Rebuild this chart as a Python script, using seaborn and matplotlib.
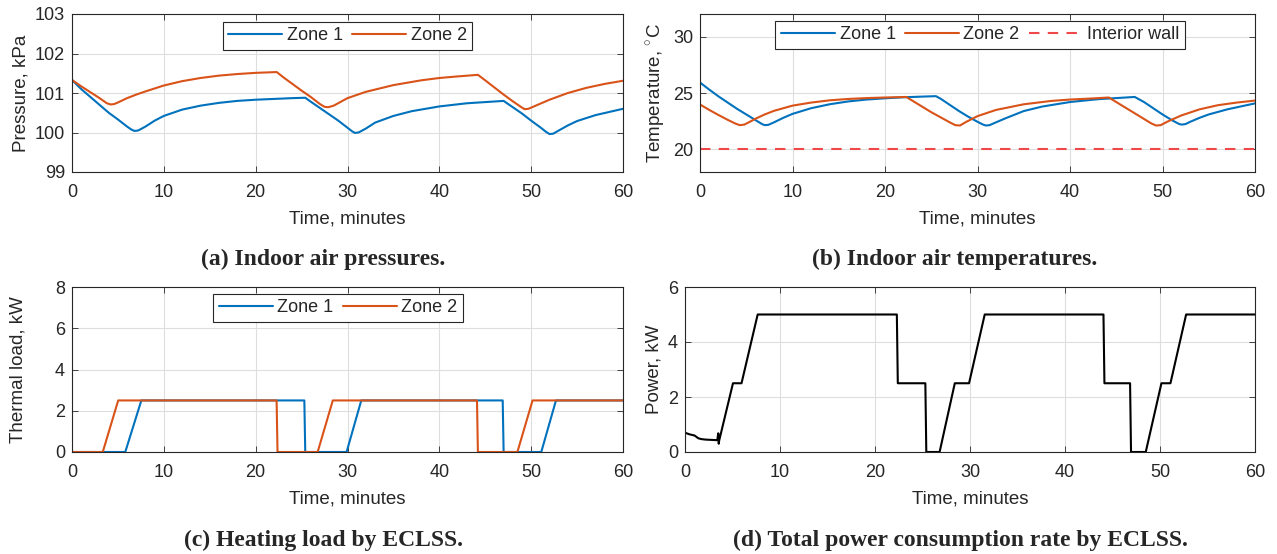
import numpy as np
import pandas as pd
import seaborn as sns
import matplotlib.pyplot as plt

# colours used by the original (matlab defaults)
blue = '#0072BD'
orange = '#D95319'

# (a) indoor air pressure, kPa
p1_t = [0, 1, 2, 3, 4, 5, 6, 6.5, 6.8, 7.2, 8, 9, 10, 12, 14, 16, 18, 20, 22, 24, 25.4,
        26, 27, 28, 29, 30, 30.5, 30.8, 31.2, 32, 33, 35, 37, 40, 43, 45, 47,
        48, 49, 50, 51, 51.6, 52, 52.4, 53, 54, 55, 57, 60]
p1_v = [101.33, 101.1, 100.9, 100.7, 100.5, 100.33, 100.15, 100.07, 100.04, 100.05, 100.15, 100.3,
        100.42, 100.58, 100.68, 100.75, 100.8, 100.83, 100.85, 100.87, 100.88,
        100.78, 100.62, 100.46, 100.3, 100.12, 100.03, 99.99, 100.0, 100.1, 100.25, 100.42, 100.54,
        100.66, 100.74, 100.77, 100.8,
        100.64, 100.48, 100.3, 100.13, 100.02, 99.96, 99.97, 100.05, 100.18, 100.29, 100.44, 100.6]
p2_t = [0, 1, 2, 3, 3.8, 4.2, 4.6, 5, 6, 7, 8, 10, 12, 14, 16, 18, 20, 22.3,
        23, 24, 25, 26, 27, 27.5, 27.9, 28.5, 30, 32, 35, 38, 40, 42, 44.2,
        45, 46, 47, 48, 49, 49.3, 49.7, 50.3, 52, 54, 56, 58, 60]
p2_v = [101.33, 101.17, 101.02, 100.87, 100.74, 100.71, 100.72, 100.76, 100.87, 100.96, 101.04,
        101.19, 101.3, 101.38, 101.44, 101.48, 101.51, 101.53,
        101.4, 101.23, 101.06, 100.9, 100.72, 100.65, 100.64, 100.68, 100.87, 101.03, 101.2,
        101.32, 101.38, 101.42, 101.46,
        101.32, 101.14, 100.96, 100.79, 100.63, 100.59, 100.6, 100.66, 100.83, 101.0, 101.13,
        101.23, 101.31]

# (b) indoor air temperature, C
t1_t = [0, 1, 2, 3, 4, 5, 6, 6.7, 7.0, 7.4, 8, 9, 10, 12, 14, 16, 18, 20, 22, 24, 25.5,
        26, 27, 28, 29, 30, 30.6, 30.9, 31.3, 32, 33, 35, 37, 40, 43, 45, 47,
        48, 49, 50, 51, 51.8, 52.1, 52.5, 53, 54, 55, 57, 60]
t1_v = [25.93, 25.3, 24.7, 24.15, 23.6, 23.1, 22.6, 22.25, 22.15, 22.18, 22.4, 22.8, 23.15,
        23.65, 24.0, 24.25, 24.42, 24.53, 24.62, 24.68, 24.72,
        24.5, 23.95, 23.4, 22.9, 22.45, 22.2, 22.12, 22.15, 22.4, 22.75, 23.4, 23.8, 24.2,
        24.45, 24.55, 24.65,
        24.2, 23.65, 23.1, 22.6, 22.25, 22.2, 22.25, 22.45, 22.8, 23.1, 23.55, 24.08]
t2_t = [0, 1, 2, 3, 3.8, 4.3, 4.8, 5.5, 6, 7, 8, 10, 12, 14, 16, 18, 20, 22.3,
        23, 24, 25, 26, 27, 27.6, 28.1, 28.8, 30, 32, 35, 38, 40, 42, 44.2,
        45, 46, 47, 48, 48.8, 49.3, 49.8, 50.5, 52, 54, 56, 58, 60]
t2_v = [23.98, 23.5, 23.05, 22.62, 22.3, 22.15, 22.2, 22.5, 22.72, 23.1, 23.42, 23.88, 24.15,
        24.35, 24.47, 24.55, 24.6, 24.65,
        24.3, 23.8, 23.3, 22.85, 22.4, 22.15, 22.12, 22.45, 22.95, 23.5, 24.0, 24.3, 24.42,
        24.5, 24.6,
        24.2, 23.7, 23.2, 22.7, 22.3, 22.12, 22.15, 22.45, 23.0, 23.55, 23.92, 24.15, 24.33]
wall_t = [0, 60]
wall_v = [20, 20]

# (c) heating load, kW
h1_t = [0, 5.8, 7.55, 25.3, 25.4, 29.9, 31.5, 46.9, 47.0, 51.1, 52.7, 60]
h1_v = [0, 0, 2.5, 2.5, 0, 0, 2.5, 2.5, 0, 0, 2.5, 2.5]
h2_t = [0, 3.35, 5.03, 22.28, 22.38, 26.75, 28.4, 44.1, 44.2, 48.5, 50.15, 60]
h2_v = [0, 0, 2.5, 2.5, 0, 0, 2.5, 2.5, 0, 0, 2.5, 2.5]

# (d) total power, kW
pw_t = [0, 0.5, 1.0, 1.4, 1.7, 2.2, 3.4, 3.5, 3.55, 3.6, 5.05, 5.95, 7.65, 22.3, 22.4,
        25.3, 25.4, 26.8, 28.4, 29.9, 31.55, 44.05, 44.15, 46.85, 46.95, 48.5, 50.15,
        51.1, 52.75, 60]
pw_v = [0.7, 0.64, 0.6, 0.5, 0.47, 0.45, 0.43, 0.68, 0.3, 0.42, 2.5, 2.5, 5.0, 5.0, 2.5,
        2.5, 0, 0, 2.5, 2.5, 5.0, 5.0, 2.5, 2.5, 0, 0, 2.5, 2.5, 5.0, 5.0]

sns.set_theme(style='whitegrid')
plt.rcParams['font.family'] = ['Liberation Sans', 'DejaVu Sans']
plt.rcParams['mathtext.fontset'] = 'custom'
plt.rcParams['mathtext.rm'] = 'Liberation Sans'

fig = plt.figure(figsize=(12.77, 5.54), dpi=100)
ax_a = fig.add_axes([72 / 1277, 1 - 172 / 554, 551 / 1277, 158 / 554])
ax_b = fig.add_axes([700 / 1277, 1 - 172 / 554, 555 / 1277, 158 / 554])
ax_c = fig.add_axes([72 / 1277, 1 - 452 / 554, 551 / 1277, 165 / 554])
ax_d = fig.add_axes([685 / 1277, 1 - 452 / 554, 570 / 1277, 165 / 554])


def draw(ax, t, v, color, label=None, ls='-'):
    sns.lineplot(x=t, y=v, ax=ax, color=color, label=label, linewidth=1.5,
                 linestyle=ls, sort=False, estimator=None)


def style(ax, ylim, yticks, ylabel):
    ax.set_xlim(0, 60)
    ax.set_ylim(*ylim)
    ax.set_xticks(range(0, 61, 10))
    ax.set_yticks(yticks)
    ax.set_xlabel('Time, minutes', fontsize=13.5, color='#262626', labelpad=7)
    ax.set_ylabel(ylabel, fontsize=13.5, color='#262626', labelpad=4)
    ax.grid(True, color='#dedede', linewidth=0.8)
    for s in ax.spines.values():
        s.set_visible(True)
        s.set_color('#262626')
        s.set_linewidth(0.8)
    ax.tick_params(direction='in', length=4, width=0.6, color='#262626',
                   labelsize=13, labelcolor='#262626', top=True, right=True,
                   bottom=True, left=True)
    ax.tick_params(axis='x', pad=8.5)
    ax.tick_params(axis='y', pad=5)
    ax.set_facecolor('white')


def legend(ax, ncol, x, y):
    lg = ax.legend(loc='upper center', bbox_to_anchor=(x, y), ncol=ncol, fontsize=13,
                   frameon=True, fancybox=False, framealpha=1, edgecolor='#262626',
                   handlelength=3.0, handletextpad=0.25, columnspacing=0.5,
                   borderpad=0.3, borderaxespad=0)
    lg.get_frame().set_linewidth(0.8)


# (a)
draw(ax_a, p1_t, p1_v, blue, 'Zone 1')
draw(ax_a, p2_t, p2_v, orange, 'Zone 2')
style(ax_a, (99, 103), [99, 100, 101, 102, 103], 'Pressure, kPa')
legend(ax_a, 2, 0.5, 0.95)

# (b)
draw(ax_b, t1_t, t1_v, blue, 'Zone 1')
draw(ax_b, t2_t, t2_v, orange, 'Zone 2')
draw(ax_b, wall_t, wall_v, '#f04848', 'Interior wall', ls=(0, (5, 4)))
style(ax_b, (18, 32), [20, 25, 30], r'Temperature, $^{\circ}$C')
legend(ax_b, 3, 0.505, 0.956)

# (c)
draw(ax_c, h1_t, h1_v, blue, 'Zone 1')
draw(ax_c, h2_t, h2_v, orange, 'Zone 2')
style(ax_c, (0, 8), [0, 2, 4, 6, 8], 'Thermal load, kW')
legend(ax_c, 2, 0.483, 0.958)
# left column labels sit at the same x in the original
ax_c.yaxis.set_label_coords(-0.082, 0.5)

# (d)
draw(ax_d, pw_t, pw_v, 'black')
style(ax_d, (0, 6), [0, 2, 4, 6], 'Power, kW')

caps = [('(a) Indoor air pressures.', 323, 259),
        ('(b) Indoor air temperatures.', 955, 259),
        ('(c) Heating load by ECLSS.', 324, 540),
        ('(d) Total power consumption rate by ECLSS.', 960, 540)]
for txt, x, y in caps:
    fig.text(x / 1277, 1 - y / 554, txt, ha='center', va='center', fontsize=17,
             fontweight='bold', family=['Liberation Serif', 'DejaVu Serif'])

fig.savefig('out.png', dpi=100, facecolor='white')
